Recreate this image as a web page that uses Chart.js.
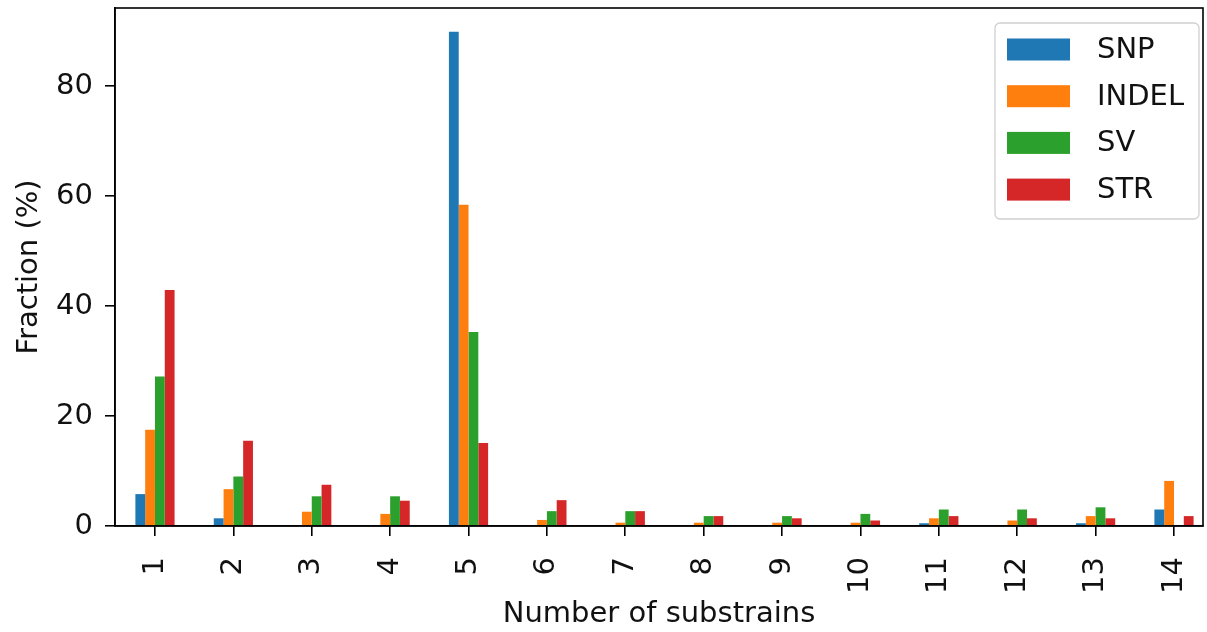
<!DOCTYPE html>
<html>
<head>
<meta charset="utf-8">
<script src="https://cdn.jsdelivr.net/npm/chart.js@4"></script>
<style>
  html, body { margin: 0; padding: 0; background: #fff; }
  canvas { display: block; }
</style>
</head>
<body>
<canvas id="chart" width="1207" height="632"></canvas>
<script>
// values (percent)
let categories = ['1', '2', '3', '4', '5', '6', '7', '8', '9', '10', '11', '12', '13', '14'];
let snp   = [5.8, 1.4, 0, 0, 89.9, 0, 0, 0, 0, 0, 0.5, 0, 0.5, 3.0];
let indel = [17.5, 6.7, 2.6, 2.2, 58.4, 1.1, 0.6, 0.6, 0.6, 0.6, 1.4, 1.0, 1.8, 8.2];
let sv    = [27.2, 9.0, 5.4, 5.4, 35.3, 2.7, 2.7, 1.8, 1.8, 2.2, 3.0, 3.0, 3.4, 0];
let str   = [42.9, 15.5, 7.5, 4.6, 15.1, 4.7, 2.7, 1.8, 1.4, 1.0, 1.8, 1.4, 1.4, 1.8];
let yTicks = [0, 20, 40, 60, 80];

let seriesNames = ['SNP', 'INDEL', 'SV', 'STR'];
let colors = ['#1f77b4', '#ff7f0e', '#2ca02c', '#d62728'];

const FONT = 'DejaVu Sans';

// frame on all four sides + legend box inside the axes, like matplotlib
const framePlugin = {
    id: 'frame',
    afterDraw(chart) {
        const ctx = chart.ctx;
        const a = chart.chartArea;
        ctx.save();
        ctx.strokeStyle = '#000';
        ctx.lineWidth = 1.6;
        ctx.strokeRect(a.left, a.top, a.right - a.left, a.bottom - a.top);

        // legend
        let bx = 995, by = 23, bw = 204, bh = 196, r = 5;
        ctx.beginPath();
        ctx.moveTo(bx + r, by);
        ctx.arcTo(bx + bw, by, bx + bw, by + bh, r);
        ctx.arcTo(bx + bw, by + bh, bx, by + bh, r);
        ctx.arcTo(bx, by + bh, bx, by, r);
        ctx.arcTo(bx, by, bx + bw, by, r);
        ctx.closePath();
        ctx.fillStyle = 'rgba(255,255,255,0.8)';
        ctx.fill();
        ctx.strokeStyle = '#d0d0d0';
        ctx.lineWidth = 1.3;
        ctx.stroke();

        ctx.font = '29px "' + FONT + '"';
        ctx.textBaseline = 'middle';
        ctx.textAlign = 'left';
        chart.data.datasets.forEach((ds, i) => {
            let cy = 49.5 + i * 46.7;
            ctx.fillStyle = ds.backgroundColor;
            ctx.fillRect(1007, cy - 11, 63, 22);
            ctx.fillStyle = '#111';
            ctx.fillText(ds.label, 1097, cy + 1);
        });
        ctx.restore();
    }
};

new Chart(document.getElementById('chart'), {
    type: 'bar',
    data: {
        datasets: [snp, indel, sv, str].map((vals, i) => ({
            label: seriesNames[i],
            data: vals.map((v, k) => ({ x: k, y: v })),
            backgroundColor: colors[i],
            borderWidth: 0,
            categoryPercentage: 0.5,
            barPercentage: 1.0
        }))
    },
    options: {
        responsive: false,
        animation: false,
        layout: { padding: { top: 8, right: 4, left: 0, bottom: 0 } },
        plugins: {
            legend: { display: false },
            tooltip: { enabled: false }
        },
        scales: {
            x: {
                type: 'linear',
                min: -0.51,
                max: 13.37,
                offset: false,
                grid: { display: true, offset: false, drawOnChartArea: false, tickLength: 10, color: '#000', lineWidth: 1.6 },
                border: { display: true, color: '#000', width: 1.6 },
                ticks: {
                    color: '#111',
                    font: { family: FONT, size: 29 },
                    minRotation: 90,
                    maxRotation: 90,
                    padding: 21,
                    autoSkip: false,
                    callback: (v) => categories[v]
                },
                afterBuildTicks(scale) {
                    scale.ticks = categories.map((c, k) => ({ value: k }));
                },
                title: {
                    display: true,
                    text: 'Number of substrains',
                    color: '#111',
                    font: { family: FONT, size: 29 },
                    padding: { top: 0, bottom: 0 }
                },
                afterFit(scale) {
                    scale.height = 106;
                    scale.paddingLeft = 0;
                    scale.paddingRight = 0;
                }
            },
            y: {
                min: 0,
                max: 94.2,
                grid: { display: true, drawOnChartArea: false, tickLength: 10, color: '#000', lineWidth: 1.6 },
                border: { display: true, color: '#000', width: 1.6 },
                ticks: {
                    color: '#111',
                    font: { family: FONT, size: 29 },
                    padding: 12
                },
                afterBuildTicks(scale) {
                    scale.ticks = yTicks.map(v => ({ value: v }));
                },
                title: {
                    display: true,
                    text: 'Fraction (%)',
                    color: '#111',
                    font: { family: FONT, size: 29 },
                    padding: { top: 12, bottom: 0 }
                },
                afterFit(scale) {
                    scale.width = 115;
                    scale.paddingTop = 0;
                    scale.paddingBottom = 0;
                }
            }
        }
    },
    plugins: [framePlugin]
});
</script>
</body>
</html>
